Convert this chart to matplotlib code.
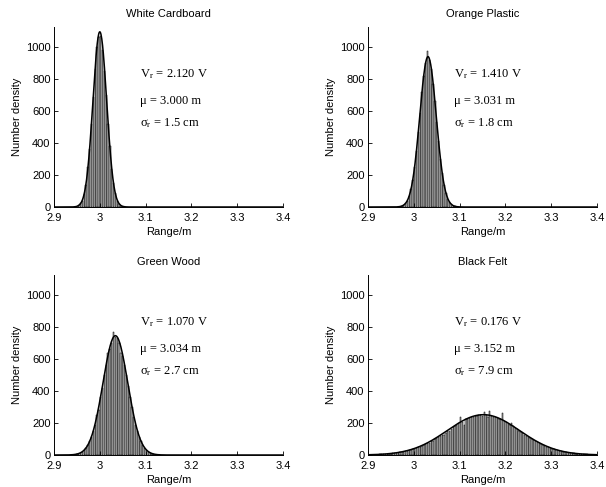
import numpy as np
import matplotlib
matplotlib.use("Agg")
import matplotlib.pyplot as plt

plt.rcParams['font.family'] = ['Liberation Sans', 'DejaVu Sans']
plt.rcParams['mathtext.fontset'] = 'stix'

# ---------------- data ----------------
titles = ["White Cardboard", "Orange Plastic", "Green Wood", "Black Felt"]
vr_text = ["2.120", "1.410", "1.070", "0.176"]
mu_text = ["3.000", "3.031", "3.034", "3.152"]
sig_text = ["1.5", "1.8", "2.7", "7.9"]

bin_width = 0.004

# first bin centres and counts (number density) for each panel
wc_start = 2.954
wc_counts = [12, 25, 40, 80, 140, 250, 360, 520, 690, 860, 1000, 1060,
             1070, 980, 850, 700, 520, 380, 240, 150, 85, 40, 20, 8]

op_start = 2.966
op_counts = [1, 3, 6, 12, 22, 40, 68, 110, 170, 250, 350, 470, 590, 720,
             820, 900, 975, 920, 860, 770, 660, 530, 410, 300, 210, 140,
             90, 52, 30, 16, 9, 4, 2, 1]

gw_start = 2.950
gw_counts = [5, 8, 14, 20, 30, 44, 60, 85, 115, 150, 190, 250, 280, 360,
             420, 500, 560, 640, 660, 700, 770, 740, 730, 700, 640, 620,
             560, 500, 430, 360, 300, 240, 190, 150, 115, 85, 60, 44, 30,
             20, 12, 8, 5, 3]

bf_start = 2.922
bf_counts = [3, 4, 4, 5, 6, 7, 8, 9, 10, 12, 13, 15, 17, 18, 21, 24, 26,
             29, 32, 35, 40, 43, 47, 52, 57, 62, 67, 72, 78, 85, 90, 97,
             104, 110, 118, 124, 128, 140, 148, 150, 165, 172, 180, 186,
             200, 238, 205, 190, 225, 228, 232, 240, 236, 245, 244, 248,
             250, 246, 270, 248, 240, 272, 245, 240, 236, 232, 228, 222,
             265, 210, 205, 195, 190, 200, 180, 168, 160, 150, 145, 136,
             128, 120, 112, 106, 98, 92, 86, 80, 74, 68, 62, 57, 52, 48,
             44, 40, 36, 33, 30, 27, 24, 21, 19, 17, 15, 13, 12, 10, 9,
             8, 7, 6, 5, 5, 4]

starts = [wc_start, op_start, gw_start, bf_start]
counts = [wc_counts, op_counts, gw_counts, bf_counts]

# Gaussian fit parameters (peak, mean in m, sigma in m)
fit_peak = [1095, 940, 746, 252]
fit_mu = [3.000, 3.031, 3.034, 3.152]
fit_sigma = [0.015, 0.018, 0.027, 0.079]

x_ticks = [2.9, 3.0, 3.1, 3.2, 3.3, 3.4]
x_ticklabels = ["2.9", "3", "3.1", "3.2", "3.3", "3.4"]
y_ticks = [0, 200, 400, 600, 800, 1000]

# ---------------- figure ----------------
W, H = 606, 487
fig = plt.figure(figsize=(W / 100, H / 100), dpi=100)

lefts = [54, 368, 54, 368]
tops = [27, 27, 275, 275]
aw, ah = 229, 180

for i in range(4):
    ax = fig.add_axes([lefts[i] / W, 1 - (tops[i] + ah) / H, aw / W, ah / H])
    centres = starts[i] + bin_width * np.arange(len(counts[i]))
    ax.bar(centres, counts[i], width=bin_width * 0.7, color='0.72',
           edgecolor='black', linewidth=0.35)
    xs = np.linspace(2.9, 3.4, 600)
    ax.plot(xs, fit_peak[i] * np.exp(-0.5 * ((xs - fit_mu[i]) / fit_sigma[i]) ** 2),
            color='black', linewidth=1.1)
    ax.set_xlim(2.9, 3.4)
    ax.set_ylim(0, 1125)
    ax.set_xticks(x_ticks)
    ax.set_xticklabels(x_ticklabels)
    ax.set_yticks(y_ticks)
    ax.tick_params(direction='in', length=3, width=0.6, labelsize=8)
    ax.tick_params(axis='x', pad=4.5)
    ax.tick_params(axis='y', pad=2.5)
    for s in ['top', 'right']:
        ax.spines[s].set_visible(False)
    for s in ['left', 'bottom']:
        ax.spines[s].set_linewidth(0.7)
    ax.set_title(titles[i], fontsize=8, pad=7)
    ax.set_xlabel("Range/m", fontsize=8, labelpad=2.5)
    ax.set_ylabel("Number density", fontsize=8, labelpad=3)
    tk = dict(fontsize=9, family=['Liberation Serif'], va='center', ha='left')
    ax.text(3.088, 830, r"V$_\mathregular{r}$ = " + vr_text[i] + " V", **tk)
    ax.text(3.088, 660, "\u03bc = " + mu_text[i] + " m", **tk)
    ax.text(3.088, 525, "\u03c3$_\mathregular{r}$ = " + sig_text[i] + " cm", **tk)

fig.savefig("out.png", dpi=100)
